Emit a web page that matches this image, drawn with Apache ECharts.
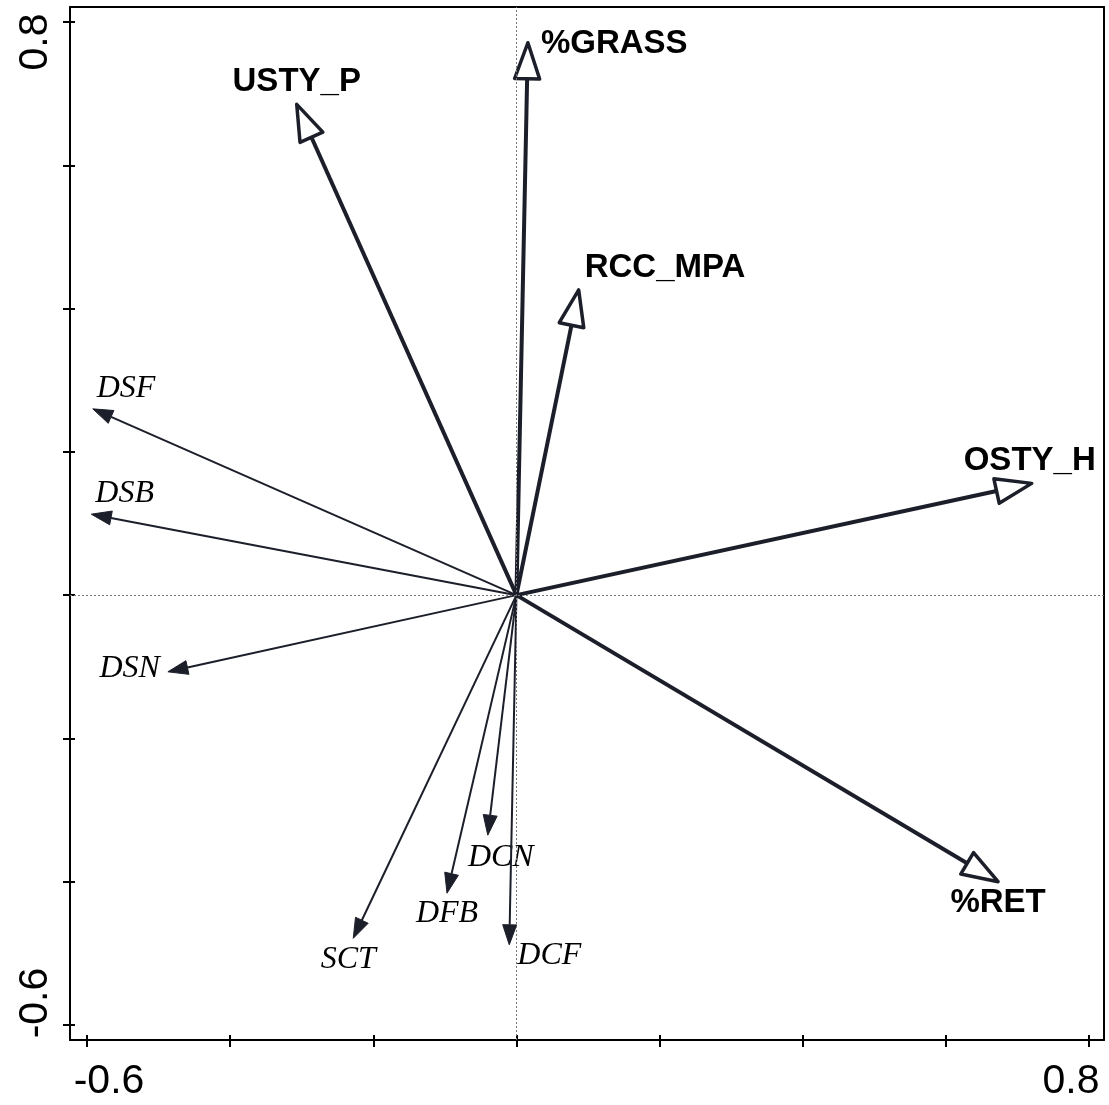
<!DOCTYPE html>
<html><head><meta charset="utf-8">
<script src="https://cdn.jsdelivr.net/npm/echarts@6/dist/echarts.min.js"></script>
<style>html,body{margin:0;padding:0;background:#fff}#c{width:1109px;height:1105px}</style>
</head><body><div id="c"></div>
<script>
// ---- data ----
const envNames = ['%GRASS', 'USTY_P', 'RCC_MPA', 'OSTY_H', '%RET'];
const envX = [0.016, -0.307, 0.087, 0.720, 0.673];
const envY = [0.771, 0.685, 0.426, 0.156, -0.400];
const spNames = ['DSF', 'DSB', 'DSN', 'SCT', 'DFB', 'DCN', 'DCF'];
const spX = [-0.592, -0.594, -0.487, -0.228, -0.097, -0.040, -0.010];
const spY = [0.260, 0.113, -0.107, -0.479, -0.416, -0.335, -0.488];
const tickValues = [-0.6, -0.4, -0.2, 0, 0.2, 0.4, 0.6, 0.8];
const xLabelValues = [-0.6, 0.8];
const xTickLabels = ['-0.6', '0.8'];
const yLabelValues = [-0.6, 0.8];
const yTickLabels = ['-0.6', '0.8'];

// ---- layout / style ----
const xMin = -0.6238, xMax = 0.8210, yMin = -0.6209, yMax = 0.8209;
const ink = '#1c1f2a';
// label offset from arrow tip in px: [dx, dy, align]
const labelLayout = {
  '%GRASS': [13, 1, 'left'],
  'USTY_P': [0, -22, 'center'],
  'RCC_MPA': [6, -22, 'left'],
  'OSTY_H': [-2, -22, 'center'],
  '%RET': [0, 21, 'center'],
  'DSF': [4, -20, 'left'],
  'DSB': [4, -21, 'left'],
  'DSN': [-8, -3, 'right'],
  'SCT': [-5, 21, 'center'],
  'DFB': [0, 20, 'center'],
  'DCN': [13, 22, 'center'],
  'DCF': [8, 11, 'left']
};

function makeRender(names, kind) {
  const env = kind === 'env';
  return function (params, api) {
    const o = api.coord([0, 0]);
    const t = api.coord([api.value(0), api.value(1)]);
    const vx = t[0] - o[0], vy = t[1] - o[1];
    const len = Math.hypot(vx, vy);
    const ux = vx / len, uy = vy / len;
    const nx = -uy, ny = ux;
    const L = env ? 36 : 20;
    const W = env ? 12.5 : 7;
    const bx = t[0] - ux * L, by = t[1] - uy * L;
    const name = names[params.dataIndex];
    const lay = labelLayout[name];
    return {
      type: 'group',
      children: [
        { type: 'line', shape: { x1: o[0], y1: o[1], x2: bx, y2: by },
          style: { stroke: ink, lineWidth: env ? 4 : 2 } },
        { type: 'polygon',
          shape: { points: [[t[0], t[1]], [bx + nx * W, by + ny * W], [bx - nx * W, by - ny * W]] },
          style: { fill: env ? '#fff' : ink, stroke: ink, lineWidth: env ? 3.5 : 1, lineJoin: 'round' } },
        { type: 'text', x: t[0] + lay[0], y: t[1] + lay[1],
          style: { text: name, fill: '#000',
            font: env ? 'bold 33px "Liberation Sans", Arial, sans-serif' : 'italic 32px "Liberation Serif", "Times New Roman", serif',
            align: lay[2], verticalAlign: 'middle' } }
      ]
    };
  };
}

function labelFmt(values, labels) {
  return function (v) {
    for (let i = 0; i < values.length; i++) {
      if (Math.abs(v - values[i]) < 1e-6) return '{' + (i === 0 ? 'lo' : 'hi') + '|' + labels[i] + '}';
    }
    return '';
  };
}

const tickFont = { fontFamily: '"Liberation Sans", Arial, sans-serif', fontSize: 41, color: '#000' };
const axisLineStyle = { color: '#000', width: 2 };

// tick/label axis, shifted 5px inward so its outward ticks cross the frame line
function tickAxis(min, max, pos, labelValues, labels, rich, margin, rotate) {
  return {
    type: 'value', min: min, max: max, position: pos, offset: -5,
    axisLine: { show: false, onZero: false },
    axisTick: { show: true, inside: false, length: 12, customValues: tickValues, lineStyle: axisLineStyle },
    axisLabel: Object.assign({ show: true, customValues: labelValues, margin: margin, rotate: rotate,
      formatter: labelFmt(labelValues, labels), rich: rich }, tickFont),
    splitLine: { show: false }
  };
}
function frameAxis(min, max, pos) {
  return {
    type: 'value', min: min, max: max, position: pos,
    axisLine: { show: true, onZero: false, lineStyle: axisLineStyle },
    axisTick: { show: false }, axisLabel: { show: false }, splitLine: { show: false }
  };
}

const xRich = {
  lo: Object.assign({ padding: [0, 0, 0, 44] }, tickFont),
  hi: Object.assign({ padding: [0, 36, 0, 0] }, tickFont)
};
const yRich = {
  lo: Object.assign({ padding: [0, 0, 0, 44] }, tickFont),
  hi: Object.assign({ padding: [0, 40, 0, 0] }, tickFont)
};

const chart = echarts.init(document.getElementById('c'), null, { renderer: 'canvas' });
chart.setOption({
  animation: false,
  backgroundColor: '#fff',
  grid: { left: 70, right: 5, top: 7, bottom: 65, containLabel: false },
  xAxis: [
    frameAxis(xMin, xMax, 'bottom'),
    tickAxis(xMin, xMax, 'bottom', xLabelValues, xTickLabels, xRich, 26, 0),
    frameAxis(xMin, xMax, 'top')
  ],
  yAxis: [
    frameAxis(yMin, yMax, 'left'),
    tickAxis(yMin, yMax, 'left', yLabelValues, yTickLabels, yRich, 19, 90),
    frameAxis(yMin, yMax, 'right')
  ],
  series: [
    {
      type: 'scatter', data: [[0, 0]], symbolSize: 0, silent: true, z: 1,
      markLine: {
        silent: true, symbol: ['none', 'none'], label: { show: false },
        lineStyle: { type: [2, 2], color: '#777', width: 1 },
        data: [{ xAxis: 0 }, { yAxis: 0 }]
      }
    },
    {
      type: 'custom', name: 'species', z: 3, silent: true, clip: false,
      data: spX.map((x, i) => [x, spY[i]]),
      renderItem: makeRender(spNames, 'sp')
    },
    {
      type: 'custom', name: 'env', z: 4, silent: true, clip: false,
      data: envX.map((x, i) => [x, envY[i]]),
      renderItem: makeRender(envNames, 'env')
    }
  ]
});
</script>
</body></html>
